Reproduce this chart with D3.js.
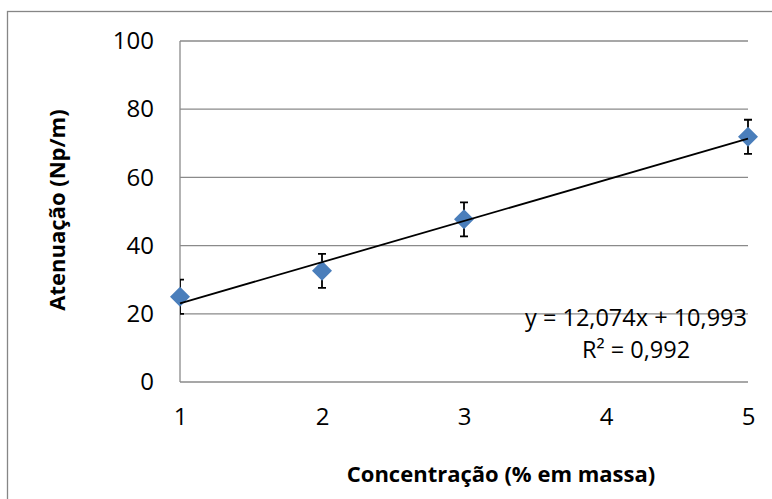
<!DOCTYPE html>
<html>
<head>
<meta charset="utf-8">
<script src="https://cdn.jsdelivr.net/npm/d3@7"></script>
<style>
  body { margin: 0; background: #fff; }
  text { font-family: "Open Sans", sans-serif; fill: #000; }
</style>
</head>
<body>
<div id="canvas"></div>
<script>
// dados
let concentracao = [1, 2, 3, 5];
let atenuacao = [25.0, 32.6, 47.7, 71.9];
let erro = [5, 5, 5, 5];
let ticksX = [1, 2, 3, 4, 5];
let ticksY = [0, 20, 40, 60, 80, 100];
let coef = [12.074, 10.993];
let rotuloEq = ["y = 12,074x + 10,993", "R² = 0,992"];

let width = 772;
let height = 499;
let margin = { top: 41, right: 24, bottom: 117, left: 180 };

let svg = d3.select("#canvas")
  .append("svg")
  .attr("width", width)
  .attr("height", height);

// moldura externa
svg.append("rect")
  .attr("x", 7.5).attr("y", 11.5)
  .attr("width", 800).attr("height", 600)
  .attr("fill", "none")
  .attr("stroke", "#868686")
  .attr("stroke-width", 1.3);

let escalaX = d3.scaleLinear()
  .domain([1, 5])
  .range([margin.left, width - margin.right]);
let escalaY = d3.scaleLinear()
  .domain([0, 100])
  .range([height - margin.bottom, margin.top]);

// grade horizontal
svg.append("g")
  .selectAll("line")
  .data(ticksY)
  .enter()
  .append("line")
  .attr("x1", margin.left)
  .attr("x2", width - margin.right)
  .attr("y1", d => escalaY(d))
  .attr("y2", d => escalaY(d))
  .attr("stroke", "#8a8a8a")
  .attr("stroke-width", 1.3);

// eixo y (linha)
svg.append("line")
  .attr("x1", margin.left).attr("x2", margin.left)
  .attr("y1", escalaY(100)).attr("y2", escalaY(0))
  .attr("stroke", "#8a8a8a")
  .attr("stroke-width", 1.3);

// rótulos do eixo y
let ejeY = d3.axisLeft(escalaY).tickValues(ticksY).tickSize(0).tickPadding(26);
svg.append("g")
  .attr("transform", "translate(" + margin.left + ",0)")
  .call(ejeY)
  .call(g => g.select(".domain").remove())
  .selectAll("text")
  .style("font-family", "'Open Sans', sans-serif")
  .style("font-size", "24px")
  .attr("fill", "#000");

// rótulos do eixo x
let ejeX = d3.axisBottom(escalaX).tickValues(ticksX).tickFormat(d3.format("d"))
  .tickSize(0).tickPadding(26);
svg.append("g")
  .attr("transform", "translate(0," + escalaY(0) + ")")
  .call(ejeX)
  .call(g => g.select(".domain").remove())
  .selectAll("text")
  .style("font-family", "'Open Sans', sans-serif")
  .style("font-size", "24px")
  .attr("fill", "#000");

let dados = concentracao.map((c, i) => ({ x: c, y: atenuacao[i], e: erro[i] }));

// barras de erro recortadas pela área do gráfico
svg.append("clipPath").attr("id", "area")
  .append("rect")
  .attr("x", margin.left).attr("y", 0)
  .attr("width", width - margin.right - margin.left + 10)
  .attr("height", height);

let barras = svg.append("g")
  .attr("clip-path", "url(#area)")
  .attr("stroke", "#000")
  .attr("stroke-width", 1.8)
  .attr("fill", "none");

barras.selectAll("path")
  .data(dados)
  .enter()
  .append("path")
  .attr("d", d => {
    let x = escalaX(d.x), y1 = escalaY(d.y + d.e), y0 = escalaY(d.y - d.e);
    return "M" + (x - 4) + "," + y1 + "H" + (x + 4) +
      "M" + x + "," + y1 + "V" + y0 +
      "M" + (x - 4) + "," + y0 + "H" + (x + 4);
  });

// pontos (losangos)
svg.append("g")
  .selectAll("path")
  .data(dados)
  .enter()
  .append("path")
  .attr("transform", d => "translate(" + escalaX(d.x) + "," + escalaY(d.y) + ")")
  .attr("d", "M0,-10L10,0L0,10L-10,0Z")
  .attr("fill", "#4a7ebb");

// linha de tendência
let tendencia = d3.line()
  .x(d => escalaX(d))
  .y(d => escalaY(coef[0] * d + coef[1]));
svg.append("path")
  .datum([1, 5])
  .attr("d", tendencia)
  .attr("stroke", "#000")
  .attr("stroke-width", 1.8)
  .attr("fill", "none");

// equação
svg.append("g")
  .selectAll("text")
  .data(rotuloEq)
  .enter()
  .append("text")
  .attr("x", 636)
  .attr("y", (d, i) => 326 + i * 32)
  .attr("text-anchor", "middle")
  .style("font-size", "23.5px")
  .text(d => d);

// títulos dos eixos
svg.append("text")
  .attr("x", 501)
  .attr("y", 482)
  .attr("text-anchor", "middle")
  .style("font-size", "22px")
  .style("font-weight", "bold")
  .text("Concentração (% em massa)");

svg.append("text")
  .attr("transform", "translate(65,210) rotate(-90)")
  .attr("text-anchor", "middle")
  .style("font-size", "22px")
  .style("font-weight", "bold")
  .text("Atenuação (Np/m)");
</script>
</body>
</html>
